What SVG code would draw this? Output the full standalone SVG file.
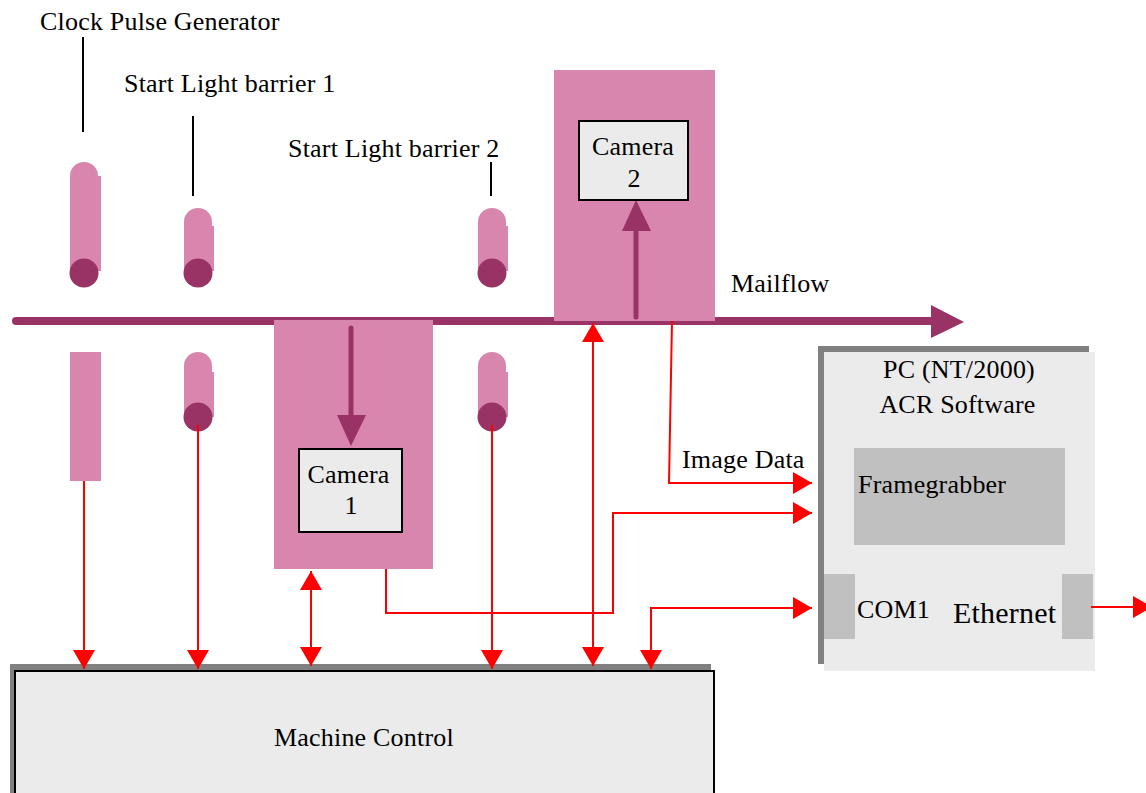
<svg xmlns="http://www.w3.org/2000/svg" width="1146" height="793" viewBox="0 0 1146 793">
<style>
text{font-family:"Liberation Serif","Times New Roman",serif;font-size:26px;letter-spacing:0.2px;fill:#000}
.pink{fill:#d886ae}
.dark{fill:#993366}
.red{fill:none;stroke:#ff0000;stroke-width:2}
.lead{stroke:#000;stroke-width:2}
.shadow{fill:#808080}
.panel{fill:#ebebeb}
.port{fill:#c0c0c0}
.cam{fill:#ebebeb;stroke:#000;stroke-width:2}
</style>
<defs>
<marker id="ah" viewBox="0 0 19 22" refX="19" refY="11" markerWidth="19" markerHeight="22" markerUnits="userSpaceOnUse" orient="auto-start-reverse">
<path d="M0,0 L19,11 L0,22 z" fill="#ff0000"/>
</marker>
</defs>

<g id="labels">
<text x="40" y="30">Clock Pulse Generator</text>
<line class="lead" x1="83" y1="37" x2="83" y2="132"/>
<text x="124" y="92">Start Light barrier 1</text>
<line class="lead" x1="193" y1="116" x2="193" y2="196"/>
<text x="288" y="157">Start Light barrier 2</text>
<line class="lead" x1="491" y1="162" x2="491" y2="196"/>
</g>

<g id="mailflow">
<line x1="16" y1="321" x2="935" y2="321" stroke="#993366" stroke-width="8" stroke-linecap="round"/>
<polygon class="dark" points="931,305 964,322 931,338"/>
<text x="731" y="292">Mailflow</text>
</g>

<g id="clock-pulse-generator">
<rect class="pink" x="70" y="176" width="31" height="95"/>
<rect class="pink" x="70" y="162" width="28" height="111" rx="14"/>
<circle class="dark" cx="84" cy="273" r="14.5"/>
<rect class="pink" x="70" y="352" width="31" height="129"/>
</g>

<g id="light-barrier-1">
<rect class="pink" x="184" y="226" width="30" height="45"/>
<rect class="pink" x="184" y="208" width="28" height="65" rx="14"/>
<circle class="dark" cx="198" cy="273" r="14.5"/>
<rect class="pink" x="184" y="372" width="30" height="45"/>
<rect class="pink" x="184" y="352" width="28" height="65" rx="14"/>
<circle class="dark" cx="198" cy="417" r="14.5"/>
</g>

<g id="light-barrier-2">
<rect class="pink" x="478" y="226" width="30" height="45"/>
<rect class="pink" x="478" y="208" width="28" height="65" rx="14"/>
<circle class="dark" cx="492" cy="273" r="14.5"/>
<rect class="pink" x="478" y="372" width="30" height="45"/>
<rect class="pink" x="478" y="352" width="28" height="65" rx="14"/>
<circle class="dark" cx="492" cy="417" r="14.5"/>
</g>

<g id="camera-2">
<rect class="pink" x="554" y="70" width="161" height="251"/>
<line x1="636" y1="317" x2="636" y2="228" stroke="#993366" stroke-width="5" stroke-linecap="round"/>
<polygon class="dark" points="622,231 636,200 651,231"/>
<rect class="cam" x="579" y="121" width="109" height="79"/>
<text x="633" y="155" text-anchor="middle">Camera</text>
<text x="634" y="187" text-anchor="middle">2</text>
</g>

<g id="camera-1">
<rect class="pink" x="274" y="320" width="159" height="249"/>
<line x1="351" y1="328" x2="351" y2="418" stroke="#993366" stroke-width="5" stroke-linecap="round"/>
<polygon class="dark" points="337,415 351,446 366,415"/>
<rect class="cam" x="299" y="449" width="103" height="83"/>
<text x="348.5" y="483" text-anchor="middle">Camera</text>
<text x="351" y="514" text-anchor="middle">1</text>
</g>

<g id="pc">
<rect class="shadow" x="818" y="346" width="271" height="318"/>
<rect class="panel" x="824" y="352" width="271" height="319"/>
<text x="959" y="378" text-anchor="middle">PC (NT/2000)</text>
<text x="957.5" y="413" text-anchor="middle">ACR Software</text>
<rect class="port" x="854" y="448" width="211" height="97"/>
<text x="858" y="493">Framegrabber</text>
<rect class="port" x="824" y="574" width="31" height="65"/>
<rect class="port" x="1062" y="574" width="31" height="65"/>
<text x="857" y="618">COM1</text>
<text x="953" y="623" style="font-size:30px;letter-spacing:0.2px">Ethernet</text>
</g>

<g id="machine-control">
<rect class="shadow" x="10" y="664" width="701" height="140"/>
<rect x="15" y="671" width="699" height="140" fill="#ebebeb" stroke="#000" stroke-width="2"/>
<text x="274" y="746">Machine Control</text>
</g>

<g id="connectors">
<path class="red" d="M84,481 L84,669" marker-end="url(#ah)"/>
<path class="red" d="M198,425 L198,669" marker-end="url(#ah)"/>
<path class="red" d="M311,571 L311,666" marker-start="url(#ah)" marker-end="url(#ah)"/>
<path class="red" d="M492,425 L492,669" marker-end="url(#ah)"/>
<path class="red" d="M593,323 L593,666" marker-start="url(#ah)" marker-end="url(#ah)"/>
<path class="red" d="M386,569 L386,613 L613,613 L613,513 L812,513" marker-end="url(#ah)"/>
<path class="red" d="M672,321 L669,483 L812,483" marker-end="url(#ah)"/>
<path class="red" d="M651,669 L651,608 L812,608" marker-start="url(#ah)" marker-end="url(#ah)"/>
<path class="red" d="M1091,607 L1152,607" marker-end="url(#ah)"/>
<text x="682" y="468">Image Data</text>
</g>
</svg>
